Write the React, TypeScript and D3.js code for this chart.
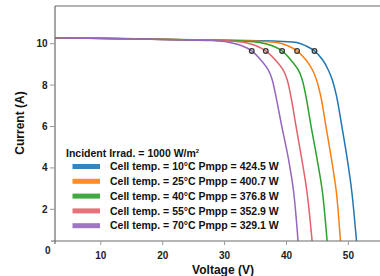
import React from "react";
import * as d3 from "d3";

const temps = ["10°C", "25°C", "40°C", "55°C", "70°C"];
const pmpp = ["424.5", "400.7", "376.8", "352.9", "329.1"];
const colors = ["#1f77b4", "#ff7f0e", "#2ca02c", "#e2626b", "#9467bd"];

// Read points (V, I) per curve
const curve10: [number, number][] = [[0, 10.3], [25, 10.18], [38.5, 10.12], [41.66, 10.06], [43.1, 9.9], [44.52, 9.65], [45.85, 9.21], [46.75, 8.73], [47.4, 8.25], [48.1, 7.44], [48.95, 5.99], [49.8, 4.46], [50.55, 2.85], [51.31, 0.47], [51.45, 0]];
const curve25: [number, number][] = [[0, 10.3], [25, 10.18], [35.5, 10.12], [38.43, 10.06], [40.2, 9.9], [41.71, 9.65], [43.15, 9.21], [44.2, 8.73], [44.85, 8.25], [45.55, 7.44], [46.38, 5.99], [47.25, 4.46], [48.05, 2.85], [48.72, 0.47], [48.85, 0]];
const curve40: [number, number][] = [[0, 10.3], [25, 10.19], [32.8, 10.13], [35.69, 10.06], [37.7, 9.9], [39.29, 9.65], [40.7, 9.21], [41.9, 8.73], [42.55, 8.25], [43.15, 7.44], [43.98, 5.99], [44.92, 4.46], [45.8, 2.85], [46.56, 0.47], [46.7, 0]];
const curve55: [number, number][] = [[0, 10.3], [22, 10.2], [30.4, 10.14], [33.26, 10.06], [35.1, 9.9], [36.65, 9.65], [38.2, 9.21], [39.45, 8.73], [40.12, 8.25], [40.72, 7.44], [41.55, 5.99], [42.45, 4.46], [43.3, 2.85], [44.14, 0.47], [44.28, 0]];
const curve70: [number, number][] = [[0, 10.3], [18, 10.21], [28.0, 10.15], [30.84, 10.06], [32.8, 9.9], [34.39, 9.65], [35.85, 9.21], [37.05, 8.73], [37.7, 8.25], [38.3, 7.44], [39.25, 5.99], [40.3, 4.46], [41.15, 2.85], [41.87, 0.47], [42.0, 0]];
const curves = [curve10, curve25, curve40, curve55, curve70];

const vmpp = [44.52, 41.71, 39.29, 36.65, 34.39];
const impp = [9.65, 9.65, 9.65, 9.65, 9.65];

const xTicks = [10, 20, 30, 40, 50];
const yTicks = [2, 4, 6, 8, 10];

export default function App() {
  const W = 380, H = 276;
  const x = d3.scaleLinear().domain([2.6, 56]).range([55, 55 + (56 - 2.6) * 6.19]);
  const y = d3.scaleLinear().domain([0.47, 11.82]).range([241, 6]);
  const line = d3.line<[number, number]>().x(d => x(d[0])).y(d => y(d[1])).curve(d3.curveCatmullRom.alpha(0.5));
  const font = "Arial, 'Liberation Sans', Helvetica, sans-serif";
  const left = x(2.6), bottom = y(0.47), top = y(11.82);
  return (
    <svg width={W} height={H} style={{ position: "absolute", left: 0, top: 0 }} fontFamily={font}>
      <defs>
        <clipPath id="plot">
          <rect x={left} y={top} width={W - left} height={bottom - top} />
        </clipPath>
      </defs>
      <g clipPath="url(#plot)">
        {curves.map((c, i) => (
          <path key={i} d={line(c) || ""} fill="none" stroke={colors[i]} strokeWidth={1.5} />
        ))}
        {vmpp.map((v, i) => (
          <circle key={i} cx={x(v)} cy={y(impp[i])} r={2.3} fill="none" stroke="#333" strokeWidth={1.3} />
        ))}
      </g>
      {/* frame */}
      <line x1={left} x2={W} y1={top} y2={top} stroke="#6b6b6b" strokeWidth={1.2} />
      <line x1={left} x2={left} y1={top} y2={bottom + 3} stroke="#6b6b6b" strokeWidth={1.2} />
      <line x1={left - 4} x2={W} y1={bottom} y2={bottom} stroke="#6b6b6b" strokeWidth={1.2} />
      {yTicks.map(t => (
        <g key={t}>
          <line x1={left - 5} x2={left} y1={y(t)} y2={y(t)} stroke="#999" strokeWidth={1} />
          <text x={left - 7.5} y={y(t)} dy="0.35em" textAnchor="end" fontSize={10} fontWeight="bold" fill="#222">{t}</text>
        </g>
      ))}
      <text x={left - 4.5} y={y(0)} dy="0.35em" textAnchor="end" fontSize={10} fontWeight="bold" fill="#222">0</text>
      {xTicks.map(t => (
        <g key={t}>
          <line x1={x(t)} x2={x(t)} y1={bottom} y2={bottom + 4} stroke="#999" strokeWidth={1} />
          <text x={x(t)} y={bottom + 14} dy="0.35em" textAnchor="middle" fontSize={10} fontWeight="bold" fill="#222">{t}</text>
        </g>
      ))}
      <text x={223} y={270} dy="0.35em" textAnchor="middle" fontSize={12} fontWeight="bold" fill="#111">Voltage (V)</text>
      <text transform={`translate(20,123) rotate(-90)`} dy="0.35em" textAnchor="middle" fontSize={12} fontWeight="bold" fill="#111">Current (A)</text>
      {/* legend */}
      <text x={66} y={153} dy="0.35em" fontSize={10.5} fontWeight="bold" fill="#111">
        Incident Irrad. = 1000 W/m<tspan dy="-4" fontSize={6}>2</tspan>
      </text>
      {temps.map((t, i) => (
        <g key={t}>
          <rect x={72.5} y={166.5 + i * 14.8 - 2.5} width={27.5} height={5} fill={colors[i]} opacity={0.9} />
          <text x={110} y={166.5 + i * 14.8} dy="0.35em" fontSize={10.5} fontWeight="bold" fill="#111">
            {`Cell temp. = ${t} Pmpp = ${pmpp[i]} W`}
          </text>
        </g>
      ))}
    </svg>
  );
}
